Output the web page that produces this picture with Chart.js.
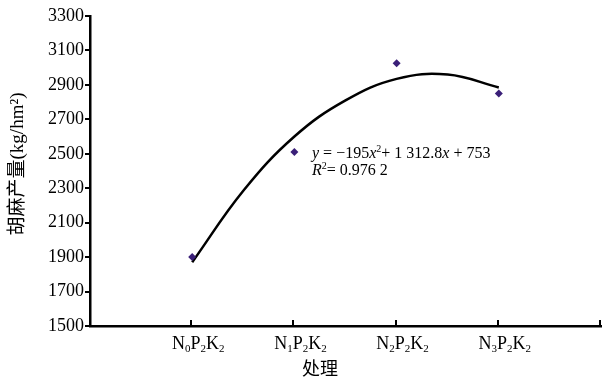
<!DOCTYPE html>
<html>
<head>
<meta charset="utf-8">
<script src="https://cdn.jsdelivr.net/npm/chart.js@4/dist/chart.umd.min.js"></script>
<style>
  body { margin: 0; background: #fff; }
  canvas { display: block; }
</style>
</head>
<body>
<canvas id="yieldChart" width="605" height="381"></canvas>
<script>
// DATA
const treatments = [["N", "0"], ["P", "2"], ["K", "2"]];
const nLevels = ["0", "1", "2", "3"];
const treatmentPos = [1, 2, 3, 4];
const yieldValues = [1900, 2510, 3025, 2850];
// trend curve
const trendX = [1, 1.5, 2, 2.5, 3, 3.5, 4];
const trendY = [1870, 2285, 2600, 2810, 2935, 2960, 2885];
const yTicks = [1500, 1700, 1900, 2100, 2300, 2500, 2700, 2900, 3100, 3300];
const xTickMarks = [1, 2, 3, 4, 5];

const serif = "'Liberation Serif', 'Times New Roman', 'Noto Sans CJK SC', serif";
const cjk = "'Liberation Serif', 'Noto Sans CJK SC', serif";

// draws pieces of text with italics / sub / superscripts, returns end x
function drawRuns(ctx, runs, x, y) {
    runs.forEach(r => {
        ctx.font = (r.italic ? "italic " : "") + r.size + "px " + serif;
        ctx.fillText(r.t, x, y + (r.dy || 0));
        x += ctx.measureText(r.t).width;
    });
    return x;
}

function runsWidth(ctx, runs) {
    let w = 0;
    runs.forEach(r => {
        ctx.font = (r.italic ? "italic " : "") + r.size + "px " + serif;
        w += ctx.measureText(r.t).width;
    });
    return w;
}

// ticks, labels, titles and equation
const extras = {
    id: "extras",
    afterDraw(chart) {
        const ctx = chart.ctx;
        const xs = chart.scales.x;
        const ys = chart.scales.y;
        const base = ys.getPixelForValue(yTicks[0]);
        ctx.save();
        ctx.strokeStyle = "#000";
        ctx.lineWidth = 2;
        // inward ticks on x axis
        xTickMarks.forEach(v => {
            const px = Math.round(xs.getPixelForValue(v)) - 1;
            ctx.beginPath();
            ctx.moveTo(px, base);
            ctx.lineTo(px, base - 6);
            ctx.stroke();
        });

        ctx.fillStyle = "#000";
        ctx.textBaseline = "alphabetic";
        ctx.textAlign = "left";
        // category labels with subscripts
        nLevels.forEach((n, i) => {
            const runs = [];
            treatments.forEach(([letter, sub], j) => {
                runs.push({ t: letter, size: 18 });
                runs.push({ t: j === 0 ? n : sub, size: 11, dy: 3 });
            });
            const w = runsWidth(ctx, runs);
            const cx = xs.getPixelForValue(treatmentPos[i]) + 6;
            drawRuns(ctx, runs, cx - w / 2, 349);
        });

        // x title
        ctx.font = "18px " + cjk;
        ctx.textAlign = "center";
        ctx.textBaseline = "middle";
        ctx.fillText("处理", 320, 370);

        // y title
        ctx.save();
        ctx.translate(18, 164);
        ctx.rotate(-Math.PI / 2);
        ctx.font = "19px " + cjk;
        ctx.fillText("胡麻产量(kg/hm²)", 0, 0);
        ctx.restore();

        // equation
        ctx.textAlign = "left";
        ctx.textBaseline = "alphabetic";
        drawRuns(ctx, [
            { t: "y", size: 16, italic: true },
            { t: " = \u2212195", size: 16 },
            { t: "x", size: 16, italic: true },
            { t: "2", size: 10, dy: -6 },
            { t: "+ 1 312.8", size: 16 },
            { t: "x", size: 16, italic: true },
            { t: " + 753", size: 16 }
        ], 312, 158);
        drawRuns(ctx, [
            { t: "R", size: 16, italic: true },
            { t: "2", size: 10, dy: -6 },
            { t: "= 0.976 2", size: 16 }
        ], 312, 175);
        ctx.restore();
    }
};

function loadChart() {
    const ctx = document.getElementById("yieldChart");

    new Chart(ctx, {
        type: "scatter",
        data: {
            datasets: [{
                label: "trend",
                data: trendX.map((x, i) => ({ x: x, y: trendY[i] })),
                showLine: true,
                tension: 0.4,
                borderColor: "#000",
                borderWidth: 2.5,
                pointRadius: 0,
                order: 2
            }, {
                label: "yield",
                data: treatmentPos.map((x, i) => ({ x: x, y: yieldValues[i] })),
                pointStyle: "rectRot",
                pointRadius: 4,
                backgroundColor: "#3a1f78",
                borderWidth: 0,
                order: 1
            }]
        },
        options: {
            responsive: false,
            animation: false,
            devicePixelRatio: 1,
            layout: { padding: { top: 16, right: 1, left: 0, bottom: 0 } },
            plugins: {
                legend: { display: false },
                tooltip: { enabled: false }
            },
            scales: {
                x: {
                    type: "linear",
                    min: 0,
                    max: 5,
                    ticks: { display: false },
                    grid: { display: false },
                    border: { display: true, color: "#000", width: 2.5 },
                    afterFit: s => { s.height = 55; }
                },
                y: {
                    min: 1500,
                    max: 3300,
                    afterBuildTicks: s => { s.ticks = yTicks.map(v => ({ value: v })); },
                    ticks: {
                        color: "#000",
                        padding: 1,
                        font: { family: serif, size: 18 },
                        callback: v => String(v)
                    },
                    grid: {
                        drawOnChartArea: false,
                        drawTicks: true,
                        tickLength: 5,
                        color: "#000",
                        lineWidth: 2
                    },
                    border: { display: true, color: "#000", width: 2.5 },
                    afterFit: s => { s.width = 90; }
                }
            }
        },
        plugins: [extras]
    });
}

window.onload = loadChart;
</script>
</body>
</html>
